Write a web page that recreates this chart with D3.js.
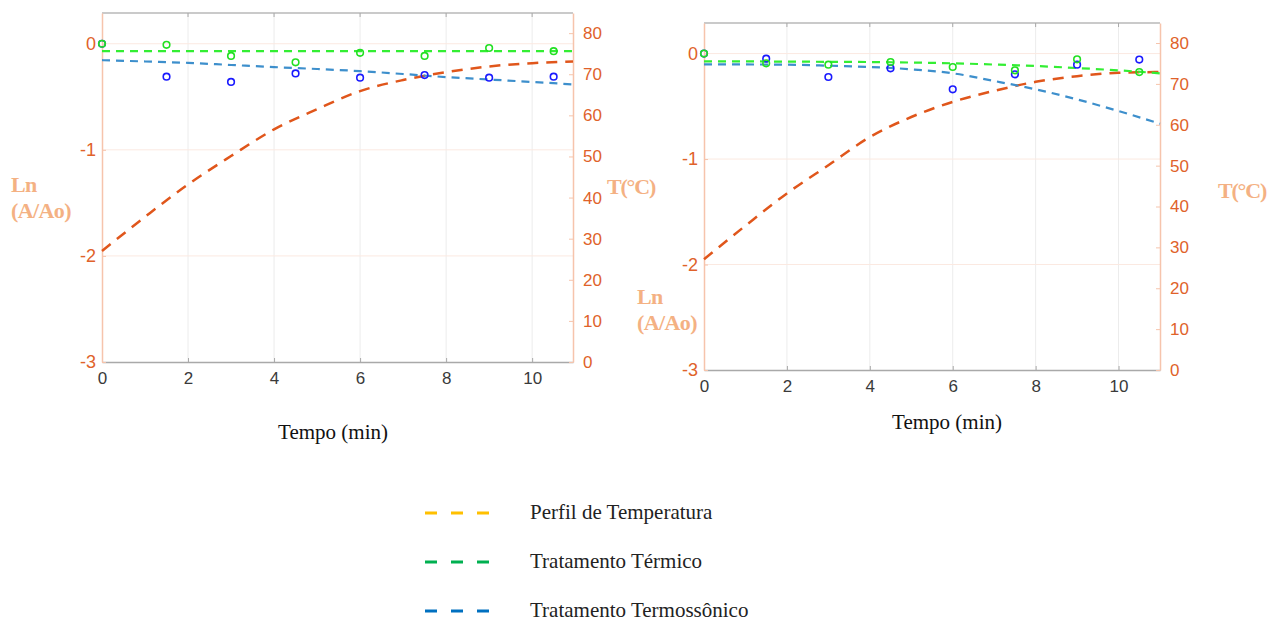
<!DOCTYPE html>
<html>
<head>
<meta charset="utf-8">
<script src="https://cdn.jsdelivr.net/npm/d3@7"></script>
<style>
  body { margin: 0; background: #fff; }
  svg { display: block; }
</style>
</head>
<body>
<div id="chart"></div>
<script>
// sample times (min)
const sampleTimes = [0, 1.5, 3, 4.5, 6, 7.5, 9, 10.5];
const curveTimes = [0, 1, 2, 3, 4, 5, 6, 7, 8, 9, 10, 11];

// left panel
const leftTermico = [0, -0.01, -0.115, -0.175, -0.085, -0.115, -0.04, -0.07];
const leftSonico = [0, -0.31, -0.36, -0.28, -0.32, -0.295, -0.32, -0.31];
const leftTermicoFit = [-0.07, -0.07, -0.07, -0.07, -0.07, -0.07, -0.07, -0.07, -0.07, -0.07, -0.07, -0.07];
const leftSonicoFit = [-0.155, -0.167, -0.18, -0.2, -0.22, -0.238, -0.258, -0.285, -0.314, -0.337, -0.36, -0.383];
const leftTemp = [27.0, 35.3, 43.2, 50.1, 56.6, 61.5, 65.9, 68.6, 70.5, 71.9, 72.7, 73.1];

// right panel
const rightTermico = [0, -0.092, -0.105, -0.08, -0.127, -0.159, -0.054, -0.175];
const rightSonico = [0, -0.048, -0.222, -0.14, -0.339, -0.197, -0.105, -0.057];
const rightTermicoFit = [-0.073, -0.074, -0.076, -0.078, -0.08, -0.085, -0.092, -0.104, -0.118, -0.137, -0.159, -0.187];
const rightSonicoFit = [-0.102, -0.103, -0.105, -0.115, -0.127, -0.149, -0.187, -0.26, -0.339, -0.434, -0.545, -0.665];
const rightTemp = [27.1, 35.3, 43.2, 50.1, 57.0, 61.9, 65.6, 68.3, 70.5, 71.9, 72.7, 72.9];

const xTicks = [0, 2, 4, 6, 8, 10];
const lnTicks = [-3, -2, -1, 0];
const tTicks = [0, 10, 20, 30, 40, 50, 60, 70, 80];

const legendItems = ["Perfil de Temperatura", "Tratamento Térmico", "Tratamento Termossônico"];
const legendColors = ["#ffc000", "#00b050", "#0070c0"];

const W = 1281, H = 622;
const svg = d3.select("#chart").append("svg").attr("width", W).attr("height", H);

const tickColor = "#e0622a";
const axisSalmon = "#f6c4ac";
const labelColor = "#f4b183";
const sans = "'Liberation Sans', Arial, sans-serif";
const serif = "'Liberation Serif', 'Times New Roman', serif";

function panel(cfg) {
  const g = svg.append("g");
  const x = d3.scaleLinear().domain([0, cfg.xmax]).range([cfg.left, cfg.right]);
  const yL = d3.scaleLinear().domain([-3, 0.29]).range([cfg.bottom, cfg.top]);
  const yR = d3.scaleLinear().domain([0, 84.9]).range([cfg.bottom, cfg.top]);

  // grid
  g.selectAll(".vg").data(xTicks.slice(1)).join("line")
    .attr("x1", d => x(d)).attr("x2", d => x(d))
    .attr("y1", cfg.top).attr("y2", cfg.bottom)
    .attr("stroke", "#ececec").attr("stroke-width", 1);
  g.selectAll(".hg").data(lnTicks.slice(1)).join("line")
    .attr("x1", cfg.left).attr("x2", cfg.right)
    .attr("y1", d => yL(d)).attr("y2", d => yL(d))
    .attr("stroke", "#fbe9e1").attr("stroke-width", 1);

  // top border and bottom axis
  g.append("line").attr("x1", cfg.left).attr("x2", cfg.right)
    .attr("y1", cfg.top).attr("y2", cfg.top).attr("stroke", "#b8b8b8").attr("stroke-width", 1.5);
  const xAxis = g.append("g").attr("transform", `translate(0,${cfg.bottom})`)
    .call(d3.axisBottom(x).tickValues(xTicks).tickSizeInner(-4).tickSizeOuter(0).tickPadding(10));
  xAxis.select(".domain").attr("stroke", "#a9a9a9").attr("stroke-width", 1.5);
  xAxis.selectAll(".tick line").attr("stroke", "#a9a9a9");
  xAxis.selectAll("text").attr("fill", "#3a3a3a").style("font", `17px ${sans}`);
  g.selectAll(".tt").data(xTicks.slice(1)).join("line")
    .attr("x1", d => x(d)).attr("x2", d => x(d))
    .attr("y1", cfg.top).attr("y2", cfg.top + 4).attr("stroke", "#a9a9a9");

  // left axis (plain hyphen for negatives, as in the figure)
  const yAxisL = g.append("g").attr("transform", `translate(${cfg.left},0)`)
    .call(d3.axisLeft(yL).tickValues(lnTicks).tickFormat(d => String(d)).tickSizeInner(-4).tickSizeOuter(0).tickPadding(6));
  yAxisL.select(".domain").attr("stroke", axisSalmon).attr("stroke-width", 1.5);
  yAxisL.selectAll(".tick line").attr("stroke", axisSalmon);
  yAxisL.selectAll("text").attr("fill", tickColor).style("font", `18px ${sans}`);

  // right axis
  const yAxisR = g.append("g").attr("transform", `translate(${cfg.right},0)`)
    .call(d3.axisRight(yR).tickValues(tTicks).tickSizeInner(-4).tickSizeOuter(0).tickPadding(10));
  yAxisR.select(".domain").attr("stroke", axisSalmon).attr("stroke-width", 1.5);
  yAxisR.selectAll(".tick line").attr("stroke", axisSalmon);
  yAxisR.selectAll("text").attr("fill", tickColor).style("font", `17px ${sans}`);

  const lineL = d3.line().x(d => x(d[0])).y(d => yL(d[1])).curve(d3.curveMonotoneX);
  const lineR = d3.line().x(d => x(d[0])).y(d => yR(d[1])).curve(d3.curveMonotoneX);

  g.append("path").datum(curveTimes.map((t, i) => [Math.min(t, cfg.xmax), cfg.temp[i]]))
    .attr("d", lineR).attr("fill", "none").attr("stroke", "#e0561b")
    .attr("stroke-width", 2.5).attr("stroke-dasharray", "11,8");
  g.append("path").datum(curveTimes.map((t, i) => [Math.min(t, cfg.xmax), cfg.sonicoFit[i]]))
    .attr("d", lineL).attr("fill", "none").attr("stroke", "#3d8fcc")
    .attr("stroke-width", 2.2).attr("stroke-dasharray", "8,6");
  g.append("path").datum(curveTimes.map((t, i) => [Math.min(t, cfg.xmax), cfg.termicoFit[i]]))
    .attr("d", lineL).attr("fill", "none").attr("stroke", "#33ee33")
    .attr("stroke-width", 2.2).attr("stroke-dasharray", "8,6");

  g.selectAll(".bs").data(sampleTimes.map((t, i) => [t, cfg.sonico[i]])).join("circle")
    .attr("cx", d => x(d[0])).attr("cy", d => yL(d[1])).attr("r", 3.3)
    .attr("fill", "none").attr("stroke", "#1a1aff").attr("stroke-width", 1.6);
  g.selectAll(".gs").data(sampleTimes.map((t, i) => [t, cfg.termico[i]])).join("circle")
    .attr("cx", d => x(d[0])).attr("cy", d => yL(d[1])).attr("r", 3.3)
    .attr("fill", "none").attr("stroke", "#22e022").attr("stroke-width", 1.6);

  // axis titles
  const ln = g.append("text").attr("fill", labelColor)
    .style("font", `bold 22px ${serif}`).style("letter-spacing", "-0.6px");
  ln.append("tspan").attr("x", cfg.lnX).attr("y", cfg.lnY).text("Ln");
  ln.append("tspan").attr("x", cfg.lnX).attr("y", cfg.lnY + 26).text("(A/Ao)");
  g.append("text").attr("x", cfg.tX).attr("y", cfg.tY).attr("fill", labelColor)
    .style("font", `bold 22px ${serif}`).style("letter-spacing", "-1.2px").text("T(°C)");
  g.append("text").attr("x", cfg.xlabX).attr("y", cfg.xlabY).attr("text-anchor", "middle")
    .attr("fill", "#111").style("font", `21px ${serif}`).text("Tempo (min)");
}

panel({
  left: 102, right: 573, top: 13, bottom: 362, xmax: 10.95,
  termico: leftTermico, sonico: leftSonico, termicoFit: leftTermicoFit,
  sonicoFit: leftSonicoFit, temp: leftTemp,
  lnX: 11, lnY: 192, tX: 607, tY: 194, xlabX: 333, xlabY: 439
});
panel({
  left: 704, right: 1160, top: 23, bottom: 370, xmax: 11,
  termico: rightTermico, sonico: rightSonico, termicoFit: rightTermicoFit,
  sonicoFit: rightSonicoFit, temp: rightTemp,
  lnX: 637, lnY: 304, tX: 1218, tY: 198, xlabX: 947, xlabY: 429
});

// legend
const lg = svg.append("g");
legendItems.forEach((name, i) => {
  const y = 513 + i * 49;
  lg.append("line").attr("x1", 425).attr("x2", 490).attr("y1", y).attr("y2", y)
    .attr("stroke", legendColors[i]).attr("stroke-width", 3).attr("stroke-dasharray", "12,14");
  lg.append("text").attr("x", 530).attr("y", y + 6).attr("fill", "#222")
    .style("font", `21px ${serif}`).text(name);
});
</script>
</body>
</html>
